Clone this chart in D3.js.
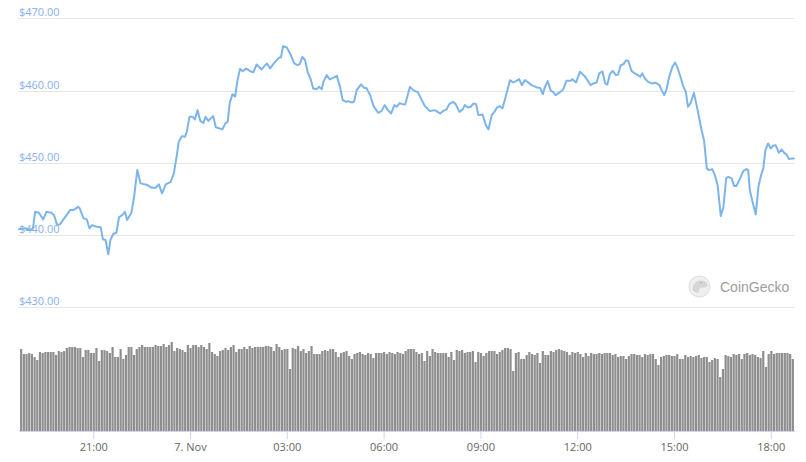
<!DOCTYPE html>
<html>
<head>
<meta charset="utf-8">
<script src="https://cdn.jsdelivr.net/npm/d3@7"></script>
<style>
  html, body { margin: 0; padding: 0; background: #fff; }
  svg { display: block; font-family: "Open Sans", "Noto Sans", sans-serif; }
</style>
</head>
<body>
<svg id="chart" width="806" height="462"></svg>
<script>
// ---------------- data ----------------
const startTime = Date.UTC(2020, 10, 6, 18, 42); // 6 Nov, 18:42
const windowMinutes = 1443;

// price line: minutes after start, USD
const priceMinutes = [0,12,22,26,30,37,45,51,60,65,71,76,84,95,101,110,113,120,126,131,136,144,152,156,161,166,170,175,181,186,192,197,201,209,214,220,226,232,239,247,254,260,266,273,282,288,294,297,303,309,312,317,323,327,332,337,343,347,352,361,366,374,378,384,388,392,397,402,406,411,416,422,430,436,442,451,461,467,476,484,487,491,498,504,512,518,522,527,532,537,543,547,553,558,563,566,572,578,584,591,597,602,608,612,619,623,628,636,642,646,653,659,668,674,680,686,692,698,702,708,713,718,722,727,733,742,749,755,764,773,783,789,795,800,807,812,819,825,829,835,840,845,850,854,862,868,873,879,884,889,894,899,905,913,919,925,930,935,941,947,953,963,969,974,978,983,989,993,998,1005,1012,1018,1026,1029,1036,1043,1052,1063,1068,1074,1079,1085,1090,1094,1099,1104,1110,1114,1119,1124,1129,1133,1139,1145,1151,1155,1159,1164,1170,1176,1184,1191,1195,1200,1204,1209,1215,1220,1225,1231,1235,1240,1244,1249,1255,1260,1265,1269,1274,1279,1283,1289,1294,1299,1302,1305,1310,1315,1319,1325,1330,1334,1341,1347,1353,1356,1359,1364,1370,1375,1380,1384,1388,1393,1398,1402,1407,1413,1418,1423,1427,1432,1437,1441];
const prices = [440.79,440.93,440.69,440.93,443.22,443.08,442.17,443.22,443.08,442.77,441.38,441.48,442.31,443.46,443.46,443.91,443.69,442.31,442.17,440.93,441.38,441.15,441.07,439.41,439.31,437.33,439.31,440.14,440.32,442.45,442.77,443.22,442.07,443.08,445.30,448.99,447.15,447.05,446.92,446.54,446.54,447.01,445.77,447.01,447.37,448.53,451.30,452.90,453.69,453.60,454.29,456.36,456.36,456.00,457.29,455.81,455.53,456.36,455.81,456.46,454.91,454.73,454.62,455.49,455.67,458.33,459.50,459.18,461.30,463.00,462.68,463.03,462.68,462.54,463.61,462.92,463.75,463.06,463.97,464.58,464.58,466.14,465.96,465.13,463.75,463.51,463.65,464.66,464.20,462.50,461.44,460.29,460.19,460.51,460.19,461.20,462.13,461.54,461.76,462.03,460.51,458.67,458.44,458.53,458.35,458.44,460.06,460.84,460.37,460.37,459.36,457.88,456.92,457.15,457.98,457.29,456.83,457.98,457.75,458.26,458.12,458.08,459.13,460.51,460.06,459.74,458.67,457.84,457.15,457.29,456.83,457.19,457.39,458.12,458.44,458.12,457.05,457.39,457.98,457.66,457.75,458.22,458.12,456.60,456.69,455.21,454.62,456.60,457.05,457.66,457.84,457.52,459.13,461.44,461.12,461.34,461.58,460.75,461.44,461.12,460.75,460.43,460.37,459.50,460.51,461.30,459.96,459.82,459.36,459.74,460.15,461.34,461.34,461.58,461.12,462.59,461.99,460.75,460.98,461.12,462.37,462.64,460.98,460.84,462.31,462.72,462.13,462.23,463.51,463.65,464.20,464.11,462.72,462.37,462.13,461.90,462.37,461.67,461.20,460.98,461.07,460.75,460.06,459.36,460.15,461.90,463.28,463.89,463.06,461.67,460.61,459.82,457.75,458.30,459.68,457.98,456.14,454.62,453.04,449.23,448.99,449.13,448.30,446.92,444.84,442.63,443.91,447.84,448.06,447.84,446.78,446.78,447.84,448.89,449.13,448.99,446.22,444.61,442.86,446.68,448.30,449.23,451.76,452.68,451.99,452.35,452.45,451.38,451.85,451.38,451.16,450.51,450.61,450.61];

// volume: one bar per 5 minutes (relative units)
const volumeStep = 5;
const volumes = [82,77,77,78,77,74,71,79,78,79,79,79,79,76,80,79,80,83,84,84,84,83,83,74,81,81,78,78,83,70,81,81,80,78,84,74,74,82,72,76,84,84,76,82,84,86,84,84,84,84,86,85,85,87,84,86,89,80,83,82,81,79,86,83,86,86,84,86,84,82,88,79,77,75,80,81,83,81,84,86,79,82,82,
84,82,85,83,84,84,84,84,85,85,84,80,87,84,81,82,82,62,83,82,85,80,82,78,80,85,77,77,77,80,81,80,82,82,79,74,78,79,80,75,72,77,78,79,77,76,78,77,73,78,78,78,79,77,79,78,77,79,78,77,80,82,82,82,79,77,78,70,80,75,82,79,78,78,78,78,74,79,71,81,80,81,78,79,79,80,69,79,78,75,78,80,80,80,77,79,81,83,83,82,60,78,79,72,72,76,79,77,76,78,
68,80,76,76,80,79,81,82,81,80,79,76,79,78,79,77,74,78,75,78,77,77,78,77,78,78,78,76,77,74,75,75,72,75,77,77,76,76,74,77,76,77,77,72,66,74,75,76,76,75,75,77,72,72,76,74,75,74,75,76,73,74,74,69,71,73,72,54,62,76,75,74,77,76,77,72,77,78,76,77,76,74,73,80,64,77,80,77,78,78,78,78,78,77,72];

// axis labels
const priceTicks = [430, 440, 450, 460, 470];
const timeTickMinutes = [138, 318, 498, 678, 858, 1038, 1218, 1398];
const timeTickLabels = ["21:00", "7. Nov", "03:00", "06:00", "09:00", "12:00", "15:00", "18:00"];

// ---------------- chart ----------------
const svg = d3.select("#chart");
const minute = 60000;
const toDate = m => new Date(startTime + m * minute);

const x = d3.scaleUtc()
  .domain([toDate(0), toDate(windowMinutes)])
  .range([19, 795]);

const y = d3.scaleLinear().domain([430, 470]).range([307.3, 18.3]);
const yVol = d3.scaleLinear().domain([0, 100]).range([431, 331]);

// grid lines + price labels
const grid = svg.append("g");
grid.selectAll("line").data(priceTicks).join("line")
  .attr("x1", 18).attr("x2", 795)
  .attr("y1", d => Math.round(y(d)) + 0.5).attr("y2", d => Math.round(y(d)) + 0.5)
  .attr("stroke", "#e6e6e6").attr("stroke-width", 1);
grid.selectAll("text").data(priceTicks).join("text")
  .attr("x", 19).attr("y", d => y(d) - 2)
  .attr("font-size", 11).attr("fill", "#88b0ec")
  .text(d => "$" + d.toFixed(2));

// watermark
const wm = svg.append("g").attr("transform", "translate(699.5,286.5)");
wm.append("circle").attr("r", 10.5).attr("fill", "#efefef").attr("stroke", "#dcdcdc").attr("stroke-width", 1);
wm.append("path").attr("d", "M-7,4 C-7,-3 -3,-6 2,-6 C6,-6 8,-3 8,-1 C8,1 5,1 2,1 C0,1 -1,3 -1,7 Z")
  .attr("fill", "#d6d6d6");
wm.append("circle").attr("cx", 1.5).attr("cy", -3.5).attr("r", 1).attr("fill", "#bbb");
svg.append("text").attr("x", 720).attr("y", 291.5)
  .attr("font-family", "'Liberation Sans', Arial, sans-serif")
  .attr("font-size", 14).attr("fill", "#9d9d9d").text("CoinGecko");

// volume bars
const barW = 2.2;
svg.append("g").selectAll("rect").data(volumes).join("rect")
  .attr("x", (d, i) => x(toDate(i * volumeStep + 4)) - barW / 2)
  .attr("width", barW)
  .attr("y", d => yVol(d))
  .attr("height", d => yVol(0) - yVol(d))
  .attr("fill", "#8e8e8e");

// price line
const pts = priceMinutes.map((m, i) => [toDate(m), prices[i]]);
svg.append("path").datum(pts)
  .attr("fill", "none").attr("stroke", "#7cb5ec").attr("stroke-width", 2)
  .attr("stroke-linejoin", "round").attr("stroke-linecap", "round")
  .attr("d", d3.line().x(d => x(d[0])).y(d => y(d[1])));

// x axis
const xAxis = d3.axisBottom(x)
  .tickValues(timeTickMinutes.map(toDate))
  .tickFormat((d, i) => timeTickLabels[i])
  .tickSize(8).tickSizeOuter(0).tickPadding(4);
const ax = svg.append("g").attr("transform", "translate(0,431)").call(xAxis);
ax.select(".domain").attr("stroke", "#ccd6eb").attr("d", "M19,0.5H795");
ax.selectAll(".tick line").attr("stroke", "#ccd6eb");
ax.selectAll(".tick text").attr("fill", "#666").attr("font-size", 11)
  .attr("font-family", "'Open Sans', sans-serif");
</script>
</body>
</html>
